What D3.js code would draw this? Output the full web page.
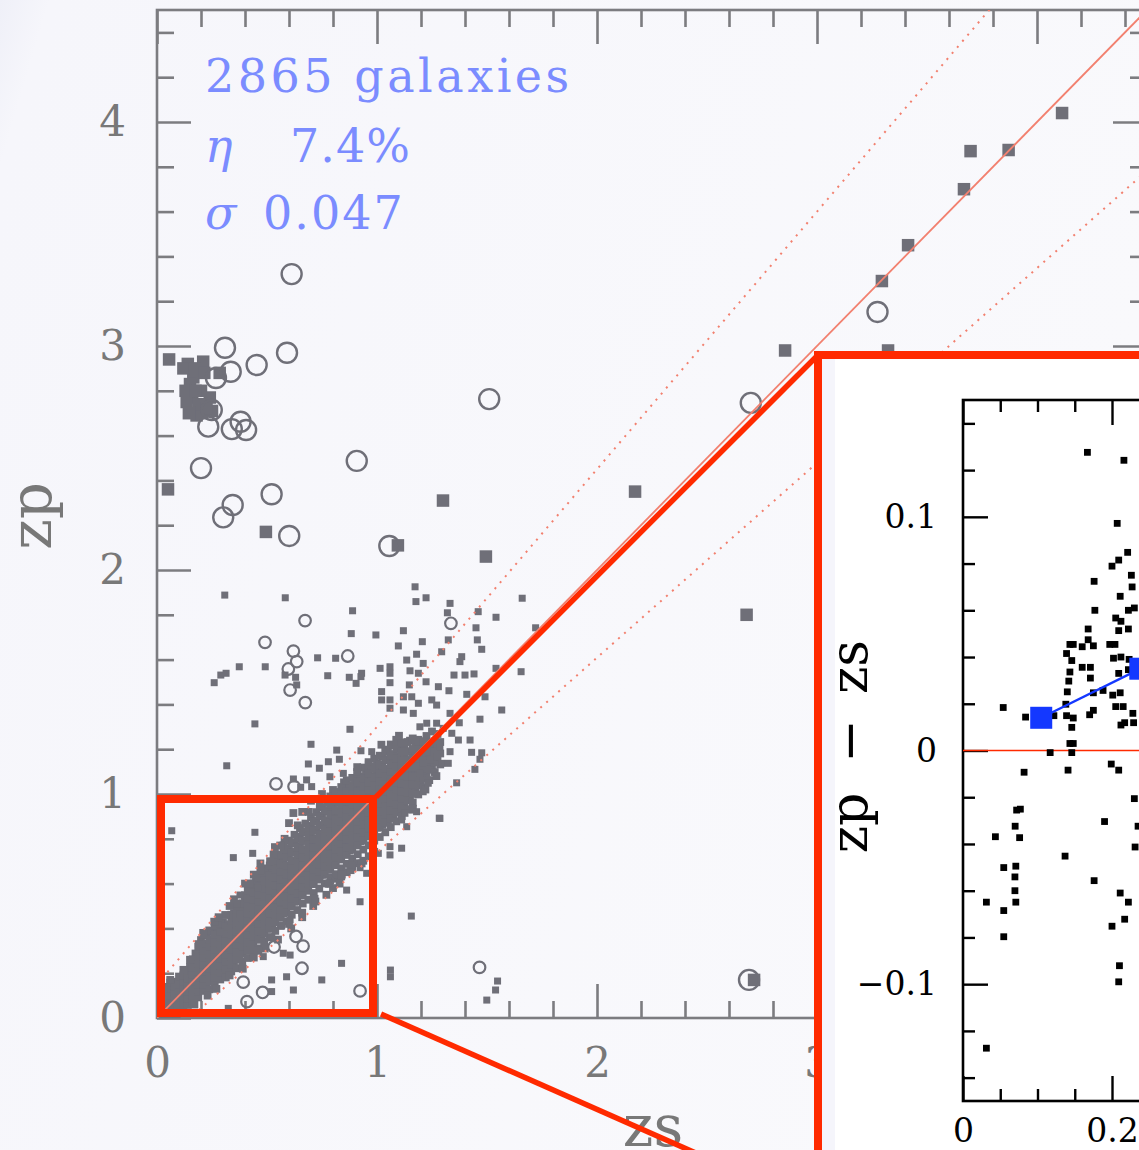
<!DOCTYPE html>
<html>
<head>
<meta charset="utf-8">
<script src="https://cdn.jsdelivr.net/npm/d3@7"></script>
<style>
  body { margin: 0; background: #f7f7fb; }
  svg { display: block; }
</style>
</head>
<body>
<svg id="chart" width="1139" height="1150"></svg>
<script>
// ---------------- data ----------------
// summary statistics of the photo-z sample
const nGalaxies = 2865;
const outlierRate = 7.4;      // eta, per cent
const scatterSigma = 0.047;   // sigma
const outlierCut = 0.15;      // catastrophic outlier limit, |dz|/(1+z)

const xTickValues = [0, 1, 2, 3, 4];
const yTickValues = [0, 1, 2, 3, 4];
const insetYTickValues = [-0.1, 0, 0.1];
const insetXTickValues = [0, 0.2];

// dense core of the zs-zp relation: [zs, [zp, ...]]
const coreColumns = [
  [0.010,[0.004,0.028,0.052]],
  [0.030,[0.012,0.041,0.068,0.097]],
  [0.050,[0.018,0.047,0.081,0.112,0.139]],
  [0.070,[0.031,0.058,0.088,0.121]],
  [0.090,[0.042,0.071,0.098,0.133,0.162]],
  [0.110,[0.052,0.079,0.112,0.141,0.172]],
  [0.130,[0.066,0.094,0.127,0.158,0.188]],
  [0.150,[0.081,0.108,0.139,0.171,0.202,0.228]],
  [0.175,[0.098,0.129,0.158,0.191,0.222,0.254,0.288]],
  [0.200,[0.131,0.162,0.188,0.219,0.252,0.281,0.312,0.348]],
  [0.225,[0.148,0.177,0.212,0.243,0.268,0.302,0.331,0.368]],
  [0.250,[0.172,0.198,0.231,0.262,0.289,0.318,0.352,0.387]],
  [0.275,[0.188,0.221,0.252,0.279,0.311,0.342,0.371,0.405]],
  [0.300,[0.209,0.243,0.268,0.301,0.332,0.361,0.392,0.428]],
  [0.325,[0.236,0.262,0.297,0.326,0.354,0.388,0.418]],
  [0.350,[0.249,0.282,0.311,0.338,0.371,0.402,0.431,0.468]],
  [0.375,[0.278,0.309,0.342,0.368,0.401,0.429,0.462,0.497]],
  [0.400,[0.301,0.332,0.359,0.392,0.421,0.452,0.481,0.518,0.548]],
  [0.425,[0.328,0.361,0.388,0.418,0.451,0.479,0.512,0.547,0.578]],
  [0.450,[0.352,0.379,0.412,0.441,0.468,0.502,0.538,0.577,0.612]],
  [0.475,[0.371,0.402,0.429,0.462,0.491,0.521,0.558,0.598,0.638]],
  [0.500,[0.398,0.431,0.458,0.489,0.522,0.551,0.588,0.628,0.668]],
  [0.525,[0.422,0.449,0.481,0.512,0.538,0.572,0.609,0.649,0.688]],
  [0.550,[0.448,0.478,0.511,0.539,0.571,0.602,0.638,0.679,0.718]],
  [0.575,[0.468,0.501,0.529,0.561,0.592,0.621,0.659,0.698,0.738,0.771]],
  [0.600,[0.498,0.528,0.561,0.588,0.621,0.651,0.682,0.719,0.758,0.792]],
  [0.625,[0.519,0.551,0.579,0.612,0.641,0.672,0.702,0.741,0.781,0.818]],
  [0.650,[0.548,0.579,0.611,0.638,0.671,0.699,0.731,0.768,0.809,0.848]],
  [0.675,[0.571,0.601,0.628,0.661,0.692,0.719,0.752,0.791,0.829,0.868]],
  [0.700,[0.598,0.629,0.661,0.688,0.719,0.751,0.779,0.818,0.858,0.897]],
  [0.725,[0.621,0.648,0.681,0.712,0.739,0.771,0.802,0.841,0.879,0.919]],
  [0.750,[0.639,0.671,0.702,0.729,0.761,0.791,0.822,0.859,0.901,0.941]],
  [0.775,[0.668,0.699,0.728,0.758,0.789,0.821,0.849,0.881,0.921,0.962]],
  [0.800,[0.688,0.718,0.751,0.779,0.811,0.839,0.871,0.902,0.941,0.982,1.018]],
  [0.825,[0.709,0.741,0.769,0.801,0.829,0.861,0.889,0.921,0.961,1.002]],
  [0.850,[0.731,0.759,0.792,0.821,0.851,0.879,0.912,0.941,0.979,1.021,1.052]],
  [0.875,[0.748,0.781,0.809,0.842,0.869,0.902,0.929,0.961,1.001,1.039]],
  [0.900,[0.771,0.799,0.832,0.861,0.889,0.921,0.951,0.979,1.021,1.061]],
  [0.925,[0.789,0.821,0.849,0.881,0.912,0.939,0.971,1.002,1.041,1.078]],
  [0.950,[0.811,0.839,0.872,0.899,0.931,0.961,0.989,1.021,1.059,1.101]],
  [0.975,[0.828,0.861,0.889,0.921,0.949,0.981,1.011,1.042,1.079,1.121]],
  [1.000,[0.849,0.879,0.911,0.939,0.971,1.001,1.029,1.061,1.102,1.138]],
  [1.025,[0.862,0.898,0.929,0.961,0.989,1.021,1.051,1.082,1.121,1.168]],
  [1.050,[0.881,0.918,0.951,0.979,1.011,1.039,1.071,1.109,1.151,1.188]],
  [1.075,[0.902,0.939,0.968,1.001,1.029,1.062,1.098,1.139,1.178,1.218]],
  [1.100,[0.928,0.968,0.999,1.031,1.059,1.091,1.128,1.169,1.211]],
  [1.125,[0.958,0.998,1.031,1.062,1.098,1.139,1.178,1.221]],
  [1.150,[0.991,1.029,1.068,1.108,1.149,1.188,1.238]],
  [1.175,[1.018,1.061,1.099,1.141,1.181,1.222]],
  [1.200,[1.049,1.089,1.131,1.172,1.212]],
  [1.225,[1.081,1.121,1.162,1.203,1.259]],
  [1.250,[1.118,1.169,1.221,1.279]],
  [1.275,[1.148,1.209,1.268]]
];

// second, interleaved set of core columns
const coreColumnsB = [
  [0.020,[0.000,0.022,0.046,0.081]],
  [0.040,[0.008,0.035,0.062,0.088,0.118]],
  [0.060,[0.012,0.039,0.071,0.098,0.131,0.158]],
  [0.080,[0.022,0.052,0.083,0.111,0.142]],
  [0.100,[0.028,0.061,0.089,0.121,0.151,0.185]],
  [0.120,[0.039,0.071,0.101,0.132,0.162,0.191]],
  [0.140,[0.058,0.085,0.118,0.148,0.178,0.211]],
  [0.1625,[0.071,0.102,0.131,0.162,0.194,0.225,0.262]],
  [0.1875,[0.092,0.118,0.149,0.181,0.209,0.241,0.272,0.318]],
  [0.2125,[0.121,0.149,0.178,0.209,0.238,0.268,0.299,0.331,0.372]],
  [0.2375,[0.128,0.162,0.192,0.222,0.253,0.284,0.318,0.352,0.391]],
  [0.2625,[0.149,0.181,0.211,0.242,0.276,0.304,0.336,0.371,0.412]],
  [0.2875,[0.172,0.201,0.236,0.266,0.296,0.328,0.357,0.388,0.421]],
  [0.3125,[0.181,0.219,0.251,0.282,0.314,0.346,0.378,0.409]],
  [0.3375,[0.208,0.239,0.272,0.304,0.339,0.371,0.398,0.438,0.461]],
  [0.3625,[0.222,0.262,0.292,0.326,0.356,0.387,0.418,0.449,0.482]],
  [0.3875,[0.252,0.288,0.318,0.351,0.382,0.412,0.442,0.471,0.512]],
  [0.4125,[0.268,0.302,0.338,0.371,0.402,0.436,0.468,0.499,0.532,0.571]],
  [0.4375,[0.298,0.328,0.362,0.398,0.431,0.462,0.492,0.528,0.561,0.601]],
  [0.4625,[0.311,0.349,0.388,0.421,0.452,0.486,0.518,0.552,0.588,0.628]],
  [0.4875,[0.342,0.378,0.411,0.442,0.478,0.508,0.541,0.578,0.611,0.649]],
  [0.5125,[0.361,0.399,0.432,0.468,0.501,0.536,0.568,0.602,0.638,0.681]],
  [0.5375,[0.389,0.428,0.461,0.492,0.528,0.561,0.592,0.629,0.662,0.702]],
  [0.5625,[0.411,0.448,0.482,0.518,0.551,0.582,0.618,0.652,0.688,0.729]],
  [0.5875,[0.432,0.471,0.508,0.542,0.576,0.608,0.641,0.679,0.718,0.752]],
  [0.6125,[0.461,0.498,0.532,0.568,0.602,0.636,0.668,0.701,0.739,0.781]],
  [0.6375,[0.482,0.521,0.556,0.592,0.624,0.658,0.692,0.728,0.762,0.802]],
  [0.6625,[0.511,0.548,0.582,0.618,0.651,0.682,0.718,0.752,0.791,0.831]],
  [0.6875,[0.528,0.568,0.602,0.638,0.672,0.706,0.741,0.772,0.812,0.851]],
  [0.7125,[0.558,0.598,0.631,0.664,0.698,0.731,0.762,0.798,0.838,0.878]],
  [0.7375,[0.578,0.618,0.652,0.688,0.721,0.752,0.788,0.821,0.861,0.902]],
  [0.7625,[0.601,0.641,0.678,0.711,0.744,0.778,0.809,0.844,0.882,0.928]],
  [0.7875,[0.628,0.662,0.698,0.732,0.768,0.801,0.832,0.868,0.908,0.951,0.989]],
  [0.8125,[0.622,0.642,0.682,0.719,0.752,0.788,0.822,0.852,0.888,0.928,0.968,1.009]],
  [0.8375,[0.632,0.668,0.708,0.742,0.778,0.811,0.842,0.878,0.912,0.951,0.991,1.031]],
  [0.8625,[0.651,0.688,0.728,0.762,0.798,0.832,0.866,0.898,0.931,0.968,1.012,1.061]],
  [0.8875,[0.672,0.712,0.751,0.788,0.821,0.852,0.888,0.921,0.952,0.991,1.031,1.072]],
  [0.9125,[0.691,0.731,0.771,0.808,0.842,0.876,0.908,0.942,0.978,1.012,1.052,1.092]],
  [0.9375,[0.702,0.752,0.792,0.828,0.862,0.898,0.931,0.962,0.998,1.032,1.071,1.118]],
  [0.9625,[0.722,0.771,0.811,0.849,0.882,0.918,0.951,0.982,1.018,1.052,1.092,1.132]],
  [0.9875,[0.742,0.792,0.832,0.868,0.902,0.938,0.971,1.002,1.038,1.072,1.112,1.158]],
  [1.0125,[0.808,0.852,0.888,0.922,0.958,0.992,1.022,1.058,1.092,1.132,1.171]],
  [1.0375,[0.829,0.871,0.908,0.942,0.978,1.012,1.042,1.078,1.112,1.152,1.198]],
  [1.0625,[0.852,0.891,0.928,0.962,0.998,1.031,1.062,1.098,1.131,1.172,1.221]],
  [1.0875,[0.878,0.918,0.952,0.988,1.021,1.052,1.088,1.122,1.158,1.201,1.242]],
  [1.1125,[0.901,0.942,0.979,1.012,1.048,1.081,1.112,1.148,1.188,1.229]],
  [1.1375,[0.932,0.972,1.008,1.042,1.078,1.118,1.152,1.191,1.232]],
  [1.1625,[0.962,1.001,1.041,1.078,1.118,1.158,1.201,1.248]],
  [1.1875,[0.998,1.039,1.078,1.118,1.158,1.198,1.242]],
  [1.2125,[1.028,1.071,1.112,1.152,1.192,1.236]],
  [1.2375,[1.062,1.108,1.148,1.189,1.231]],
  [1.2625,[1.098,1.142,1.188,1.236]],
  [1.2875,[1.132,1.181,1.232]]
];

// ragged edge of the core
const coreFringe = [
  [0.06,0.17],[0.09,0.005],[0.12,0.215],[0.17,0.06],[0.19,0.33],[0.23,0.10],[0.26,0.43],
  [0.27,0.13],[0.31,0.46],[0.33,0.19],[0.36,0.51],[0.39,0.22],[0.42,0.60],[0.44,0.27],
  [0.47,0.66],[0.49,0.31],[0.53,0.73],[0.55,0.35],[0.58,0.80],[0.61,0.40],[0.64,0.86],
  [0.66,0.45],[0.69,0.92],[0.71,0.50],[0.74,0.95],[0.77,0.55],[0.80,0.58],[0.83,0.60],
  [0.56,0.77],[0.44,0.64],[0.35,0.53],[0.15,0.26],[0.03,0.13],[0.21,0.38],[0.91,1.12],
  [1.02,1.22],[1.10,1.26],[1.16,0.93],[1.22,1.02],[1.27,1.08],
  [0.62,0.915],[0.66,0.92],[0.60,0.87],[0.536,0.763],[0.514,0.70],[0.47,0.69],[0.40,0.60],
  [0.33,0.50],[0.28,0.45],[0.70,0.97],[0.75,1.00],
  [0.84,0.64],[0.88,0.66],[0.93,0.69],[0.78,0.60],[0.72,0.52],[0.66,0.47],[0.60,0.42],
  [0.52,0.36],[0.46,0.30]
];

// individual galaxies away from the core: [zs, zp]
const scatterPoints = [
  [0.067,0.836],[0.445,0.829],[0.347,0.716],[0.435,0.735],[0.461,0.579],[0.377,0.549],
  [0.377,0.463],[0.286,0.383],[0.373,0.393],[0.567,0.412],[0.605,0.438],[0.718,0.534],
  [0.862,0.571],[0.923,0.519],[0.885,0.683],[0.923,0.671],[0.953,0.646],[0.839,0.244],
  [0.749,0.170],[0.620,0.125],[0.589,0.184],[0.521,0.170],[0.521,0.118],[0.605,0.281],
  [0.574,0.289],[0.483,0.274],[0.324,0.043],[0.059,0.050],
  [1.156,0.455],[1.286,0.891],[1.061,0.214],[1.061,0.184],[1.548,0.165],[1.539,0.125],[1.499,0.080],
  [0.308,1.888],[0.583,1.876],[0.889,1.818],[0.883,1.716],[0.730,1.608],[0.812,1.606],
  [0.776,1.528],[0.874,1.521],[0.927,1.524],[0.905,1.494],[0.930,1.539],[0.630,1.521],
  [0.635,1.487],[0.582,1.531],[0.260,1.497],[0.290,1.531],[0.314,1.539],[0.374,1.568],
  [0.492,1.568],[0.877,1.289],[0.445,1.313],[0.317,1.126],[0.700,1.222],[0.817,1.196],
  [0.829,1.155],[0.779,1.144],[0.688,1.134],[0.738,1.115],[0.927,1.193],[0.976,1.189],
  [0.960,1.144],[0.908,1.100],[0.847,1.092],[0.786,1.077],[0.620,1.067],[0.680,1.063],
  [0.703,1.033],[0.653,1.030],
  [1.173,1.925],[1.177,1.859],[1.223,1.876],[1.660,1.874],[1.332,1.851],[1.320,1.809],
  [1.460,1.814],[1.541,1.789],[0.995,1.710],[1.120,1.729],[1.206,1.680],[1.097,1.661],
  [1.450,1.742],[1.456,1.688],[1.476,1.646],[1.324,1.688],[1.294,1.635],[1.721,1.742],
  [1.385,1.613],[1.377,1.591],[1.180,1.624],[1.135,1.598],[1.210,1.583],[1.014,1.561],
  [1.059,1.568],[1.059,1.539],[1.150,1.550],[1.188,1.539],[1.350,1.531],[1.400,1.531],
  [1.441,1.536],[1.541,1.561],[1.655,1.546],[1.059,1.497],[1.147,1.487],[1.223,1.501],
  [1.279,1.479],[1.327,1.461],[1.408,1.445],[1.491,1.434],[1.021,1.457],[1.021,1.420],
  [1.059,1.420],[1.120,1.434],[1.158,1.434],[1.249,1.420],[1.271,1.397],[1.188,1.405],
  [1.567,1.375],[1.120,1.375],[1.165,1.360],[1.059,1.383],[1.226,1.316],[1.271,1.316],
  [1.332,1.360],[1.374,1.318],[1.468,1.334],[1.195,1.300],[1.301,1.293],[1.340,1.271],
  [1.370,1.241],[1.423,1.241],[1.430,1.186],[1.476,1.184],[1.468,1.155],[1.445,1.110],
  [1.362,1.050],[1.286,1.211],[1.332,1.189],[1.271,1.167],[1.294,1.137],[1.324,1.137],
  [1.241,1.152],[1.233,1.048],[1.210,1.010],[1.165,0.936],[1.180,0.921],[1.127,0.914],
  [1.135,0.854],[1.112,0.884],[1.059,0.765],[1.059,0.728],[1.112,0.758],[1.006,0.735],
  [1.210,1.137],[1.195,1.092],[1.283,0.892]
];

// faint / high-z sources drawn as large filled squares
const brightSquares = [
  [0.055,2.94],[0.140,2.92],[0.210,2.93],[0.165,2.86],[0.150,2.83],[0.285,2.88],
  [0.160,2.77],[0.240,2.77],[0.180,2.69],[0.250,2.71],[0.200,2.80],[0.130,2.80],
  [0.120,2.90],[0.135,2.75],[0.205,2.70],[0.170,2.90],[0.190,2.74],[0.225,2.72],
  [0.145,2.70],[0.215,2.88],[0.175,2.80],
  [0.050,2.36],[0.495,2.17],[1.095,2.11],[1.300,2.31],[1.495,2.06],[2.173,2.35],
  [2.680,1.80],[2.855,2.98],[3.323,2.98],[3.295,3.29],[3.414,3.45],[3.668,3.70],
  [3.698,3.87],[3.871,3.875],[4.114,4.04],[2.714,0.17]
];

// large open circles
const openLarge = [
  [0.612,3.321],[0.309,2.992],[0.591,2.970],[0.453,2.915],[0.335,2.885],[0.268,2.857],
  [0.249,2.714],[0.233,2.640],[0.340,2.629],[0.380,2.662],[0.405,2.625],[1.510,2.763],
  [0.908,2.487],[0.200,2.455],[0.521,2.338],[0.344,2.290],[0.301,2.235],[0.601,2.152],
  [1.056,2.107],[3.275,3.152],[2.699,2.746],[2.691,0.170]
];

// small open circles
const openSmall = [
  [0.673,1.774],[0.491,1.677],[0.620,1.638],[0.635,1.591],[0.597,1.558],[0.605,1.464],
  [0.674,1.408],[0.867,1.616],[1.336,1.762],[0.541,1.045],[0.623,1.033],[0.776,0.612],
  [0.632,0.364],[0.664,0.321],[0.532,0.317],[0.659,0.222],[0.392,0.160],[0.480,0.114],
  [0.409,0.073],[0.923,0.121],[1.466,0.226]
];

// inset: residuals zp - zs against zs for the low-z sample
const insetPoints = [
  [0.167,0.1276],[0.216,0.1242],[0.207,0.0972],[0.221,0.0848],[0.200,0.0789],[0.209,0.0815],
  [0.176,0.0724],[0.226,0.0750],[0.227,0.0700],[0.211,0.0660],[0.177,0.0600],[0.205,0.0567],
  [0.212,0.0553],[0.222,0.0600],[0.230,0.0610],[0.168,0.0520],[0.209,0.0513],[0.222,0.0520],
  [0.168,0.0474],[0.175,0.0448],[0.160,0.0444],[0.197,0.0454],[0.204,0.0454],[0.202,0.0395],
  [0.212,0.0400],[0.223,0.0390],[0.160,0.0356],[0.171,0.0356],[0.171,0.0310],[0.209,0.0330],
  [0.222,0.0346],[0.231,0.0350],[0.175,0.0247],[0.188,0.0257],[0.201,0.0237],[0.211,0.0247],
  [0.205,0.0188],[0.215,0.0188],[0.228,0.0159],[0.170,0.0153],[0.175,0.0172],[0.212,0.0109],
  [0.217,0.0119],[0.229,0.0119],
  [0.1435,0.0454],[0.148,0.0454],[0.139,0.0415],[0.146,0.0385],[0.1435,0.0336],[0.142,0.0297],
  [0.140,0.0251],[0.138,0.0198],[0.139,0.0149],[0.148,0.0139],[0.146,0.0099],[0.1435,0.0030],
  [0.148,0.0030],[0.146,-0.0009],[0.141,-0.0084],
  [0.054,0.0184],[0.084,0.0143],[0.122,0.0149],[0.117,-0.0009],[0.082,-0.0093],[0.199,-0.0058],
  [0.209,-0.0084],[0.230,-0.0206],[0.190,-0.0304],[0.235,-0.0324],[0.231,-0.0413],
  [0.072,-0.0255],[0.077,-0.0251],[0.070,-0.0324],[0.076,-0.0373],[0.0435,-0.0369],
  [0.0547,-0.0501],[0.0709,-0.0495],[0.0697,-0.0541],[0.0697,-0.0600],[0.0709,-0.0649],
  [0.0314,-0.0649],[0.0547,-0.0685],[0.0547,-0.0797],[0.137,-0.0452],[0.176,-0.0557],
  [0.211,-0.0610],[0.222,-0.0649],[0.200,-0.0752],[0.217,-0.0722],[0.210,-0.0921],
  [0.209,-0.0990],[0.0314,-0.1274]
];

// binned mean offset in the inset
const insetMeans = [[0.105,0.014],[0.238,0.035]];

// ---------------- drawing ----------------
const W = 1139, H = 1150;
const svg = d3.select('#chart');
const serif = '"DejaVu Serif", "Liberation Serif", serif';
const frameColor = '#7c7c80';
const pointColor = '#6f6f78';
const salmon = '#f2806f';
const red = '#ff2a00';

const defs = svg.append('defs');
const bg = defs.append('linearGradient').attr('id', 'bgGrad')
  .attr('x1', 0).attr('y1', 0).attr('x2', 1).attr('y2', 0.3);
bg.append('stop').attr('offset', 0).attr('stop-color', '#eff0f8');
bg.append('stop').attr('offset', 0.04).attr('stop-color', '#f6f6fb');
bg.append('stop').attr('offset', 1).attr('stop-color', '#f9f9fc');
svg.append('rect').attr('width', W).attr('height', H).attr('fill', 'url(#bgGrad)');

// main scales: zs horizontally, zp vertically
const x = d3.scaleLinear().domain([0, 4.5]).range([157, 1147]);
const y = d3.scaleLinear().domain([0, 4.5]).range([1018, 10]);

defs.append('clipPath').attr('id', 'plotClip').append('rect')
  .attr('x', x(0)).attr('y', y(4.5)).attr('width', x(4.5) - x(0)).attr('height', y(0) - y(4.5));

const stepValues = (lo, hi, step) => d3.range(Math.round((hi - lo) / step) + 1).map(i => +(lo + i * step).toFixed(4));
const minorMain = stepValues(0, 4.4, 0.2).filter(v => Math.abs(v - Math.round(v)) > 1e-6);

function styleAxis(g, color, width) {
  g.select('.domain').remove();
  g.selectAll('.tick line').attr('stroke', color).attr('stroke-width', width);
}

function frameTicks(scaleX, scaleY, opt) {
  const g = svg.append('g');
  const yb = scaleY.range()[0], yt = scaleY.range()[1];
  const xl = scaleX.range()[0], xr = scaleX.range()[1];
  const add = (gen, tr, vals, len, fmt, pad) => {
    const a = g.append('g').attr('transform', tr)
      .call(gen.tickValues(vals).tickSize(-len).tickPadding(pad || 0).tickFormat(fmt || (() => '')));
    styleAxis(a, opt.color, opt.width);
    a.selectAll('text').attr('font-family', serif).attr('font-size', opt.fontSize)
      .attr('fill', opt.textColor);
    return a;
  };
  add(d3.axisBottom(scaleX), `translate(0,${yb})`, opt.xMajor, opt.major, opt.xFmt, opt.xPad);
  add(d3.axisBottom(scaleX), `translate(0,${yb})`, opt.xMinor, opt.minor);
  add(d3.axisTop(scaleX), `translate(0,${yt})`, opt.xMajor, opt.major);
  add(d3.axisTop(scaleX), `translate(0,${yt})`, opt.xMinor, opt.minor);
  add(d3.axisLeft(scaleY), `translate(${xl},0)`, opt.yMajor, opt.major, opt.yFmt, opt.yPad);
  add(d3.axisLeft(scaleY), `translate(${xl},0)`, opt.yMinor, opt.minor);
  add(d3.axisRight(scaleY), `translate(${xr},0)`, opt.yMajor, opt.major);
  add(d3.axisRight(scaleY), `translate(${xr},0)`, opt.yMinor, opt.minor);
  g.append('rect').attr('x', xl).attr('y', yt).attr('width', xr - xl).attr('height', yb - yt)
    .attr('fill', 'none').attr('stroke', opt.color).attr('stroke-width', opt.width);
  return g;
}

frameTicks(x, y, {
  color: frameColor, width: 2.6, major: 34, minor: 17,
  xMajor: xTickValues, xMinor: minorMain, yMajor: yTickValues, yMinor: minorMain,
  xFmt: d3.format('d'), yFmt: d3.format('d'), xPad: 29, yPad: 31,
  fontSize: 42, textColor: '#787878'
});

// data layer
const plot = svg.append('g').attr('clip-path', 'url(#plotClip)');
const corePoints = coreColumns.concat(coreColumnsB)
  .flatMap(([zs, zps]) => zps.map(zp => [zs, zp]))
  .concat(coreFringe);

function squares(g, data, size, fill, sx, sy) {
  g.append('g').selectAll('rect').data(data).join('rect')
    .attr('x', d => sx(d[0]) - size / 2).attr('y', d => sy(d[1]) - size / 2)
    .attr('width', size).attr('height', size).attr('fill', fill);
}
function rings(g, data, r, sw) {
  g.append('g').selectAll('circle').data(data).join('circle')
    .attr('cx', d => x(d[0])).attr('cy', d => y(d[1])).attr('r', r)
    .attr('fill', 'none').attr('stroke', pointColor).attr('stroke-width', sw);
}

squares(plot, corePoints, 7.8, pointColor, x, y);
squares(plot, scatterPoints, 7, pointColor, x, y);
rings(plot, openSmall, 5.8, 2.2);
squares(plot, brightSquares, 12.5, pointColor, x, y);
rings(plot, openLarge, 10, 2.4);

// one-to-one relation and outlier limits
const zsGrid = [0, 4.5];
const line = d3.line().x(d => x(d[0])).y(d => y(d[1]));
plot.append('path').datum(zsGrid.map(z => [z, z + outlierCut * (1 + z)])).attr('d', line)
  .attr('fill', 'none').attr('stroke', salmon).attr('stroke-width', 2)
  .attr('stroke-dasharray', '2,6');
plot.append('path').datum(zsGrid.map(z => [z, (z - outlierCut) / (1 + outlierCut)])).attr('d', line)
  .attr('fill', 'none').attr('stroke', salmon).attr('stroke-width', 2)
  .attr('stroke-dasharray', '2,6');
plot.append('path').datum(zsGrid.map(z => [z, z])).attr('d', line)
  .attr('fill', 'none').attr('stroke', salmon).attr('stroke-width', 1.8);

// statistics
const stats = svg.append('g').attr('font-family', serif).attr('font-size', 46).attr('fill', '#7b8cff');
stats.append('text').attr('x', 205).attr('y', 92).attr('letter-spacing', 3.5)
  .text(`${nGalaxies} galaxies`);
stats.append('text').attr('x', 205).attr('y', 162).attr('font-style', 'italic').text('η');
stats.append('text').attr('x', 290).attr('y', 162).attr('letter-spacing', 1).text(`${outlierRate}%`);
stats.append('text').attr('x', 205).attr('y', 229).attr('font-style', 'italic').text('σ');
stats.append('text').attr('x', 263).attr('y', 229).attr('letter-spacing', 2).text(d3.format('.3f')(scatterSigma));

// axis titles
svg.append('text').attr('transform', 'translate(51,516) rotate(-90)')
  .attr('text-anchor', 'middle').attr('font-family', serif).attr('font-size', 58)
  .attr('fill', '#787878').text('zp');
svg.append('text').attr('x', 653).attr('y', 1146)
  .attr('text-anchor', 'middle').attr('font-family', serif).attr('font-size', 58)
  .attr('fill', '#787878').text('zs');

// zoom box on the low-z region and its connectors
const insetLeft = 818, insetTop = 355;
svg.append('rect')
  .attr('x', x(0) + 4).attr('y', y(1) + 5)
  .attr('width', x(1) - x(0) - 8).attr('height', y(0) - y(1) - 10)
  .attr('fill', 'none').attr('stroke', red).attr('stroke-width', 8);
svg.append('line').attr('x1', x(1) - 1).attr('y1', y(1) + 3).attr('x2', insetLeft).attr('y2', insetTop)
  .attr('stroke', red).attr('stroke-width', 5.5);
svg.append('line').attr('x1', x(1) + 4).attr('y1', y(0) - 4).attr('x2', insetLeft).attr('y2', 1207)
  .attr('stroke', red).attr('stroke-width', 5.5);

// ---------------- inset ----------------
const inset = svg.append('g');
inset.append('rect').attr('x', insetLeft).attr('y', insetTop).attr('width', 600).attr('height', 900)
  .attr('fill', '#ffffff').attr('stroke', red).attr('stroke-width', 8);
inset.append('rect').attr('x', insetLeft + 4).attr('y', insetTop + 4).attr('width', 13).attr('height', 900)
  .attr('fill', '#f5f5fb');

const ix = d3.scaleLinear().domain([0, 1]).range([963, 1708]);
const iy = d3.scaleLinear().domain([-0.15, 0.15]).range([1101, 400]);
const insetFmt = d => d === 0 ? '0' : d3.format('.1f')(d).replace('-', '\u2212');

const insetFrame = svg.append('g');
(function () {
  const g = insetFrame;
  const add = (gen, tr, vals, len, fmt, pad) => {
    const a = g.append('g').attr('transform', tr)
      .call(gen.tickValues(vals).tickSize(-len).tickPadding(pad || 0).tickFormat(fmt || (() => '')));
    styleAxis(a, '#000', 2.4);
    a.selectAll('text').attr('font-family', serif).attr('font-size', 33).attr('fill', '#000');
  };
  const xMinor = stepValues(0, 0.25, 0.05).filter(v => insetXTickValues.every(t => Math.abs(t - v) > 1e-6));
  const yMinor = stepValues(-0.14, 0.14, 0.02).filter(v => insetYTickValues.every(t => Math.abs(t - v) > 1e-6));
  add(d3.axisBottom(ix), `translate(0,${iy(-0.15)})`, insetXTickValues, 25, insetFmt, 18);
  add(d3.axisBottom(ix), `translate(0,${iy(-0.15)})`, xMinor, 12);
  add(d3.axisTop(ix), `translate(0,${iy(0.15)})`, insetXTickValues, 25);
  add(d3.axisTop(ix), `translate(0,${iy(0.15)})`, xMinor, 12);
  add(d3.axisLeft(iy), `translate(${ix(0)},0)`, insetYTickValues, 25, insetFmt, 26);
  add(d3.axisLeft(iy), `translate(${ix(0)},0)`, yMinor, 12);
  g.append('rect').attr('x', ix(0)).attr('y', iy(0.15)).attr('width', ix(1) - ix(0)).attr('height', iy(-0.15) - iy(0.15))
    .attr('fill', 'none').attr('stroke', '#000').attr('stroke-width', 2.6);
})();

// zero-offset reference
svg.append('line').attr('x1', ix(0)).attr('x2', ix(1)).attr('y1', iy(0)).attr('y2', iy(0))
  .attr('stroke', red).attr('stroke-width', 1.6);

squares(svg, insetPoints, 6.8, '#000', ix, iy);

const meanLine = d3.line().x(d => ix(d[0])).y(d => iy(d[1]));
svg.append('path').datum(insetMeans).attr('d', meanLine)
  .attr('fill', 'none').attr('stroke', '#1438ff').attr('stroke-width', 2.4);
squares(svg, insetMeans, 22, '#1438ff', ix, iy);

// inset y title
const ytitle = svg.append('g').attr('font-family', serif).attr('font-size', 52).attr('fill', '#000')
  .attr('text-anchor', 'middle');
[['zp', 823], ['\u2212', 741], ['zs', 667]].forEach(([t, cy]) => {
  ytitle.append('text').attr('transform', `translate(867,${cy}) rotate(-90)`).text(t);
});
</script>
</body>
</html>
